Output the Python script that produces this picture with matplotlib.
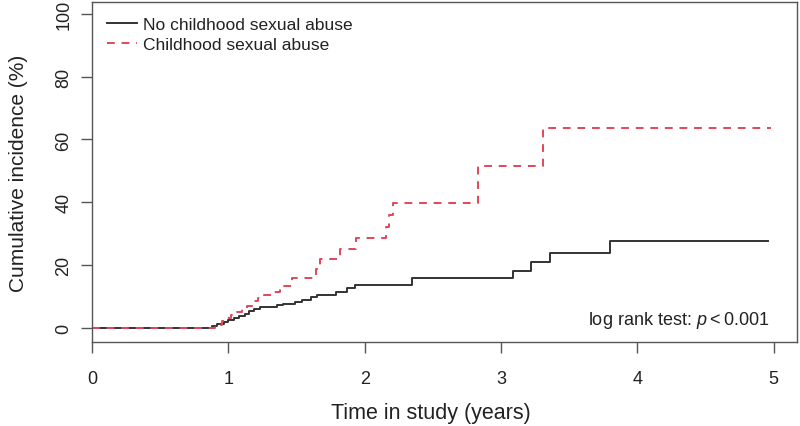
import matplotlib
matplotlib.use("Agg")
import matplotlib.pyplot as plt

plt.rcParams['font.family'] = ['Liberation Sans', 'DejaVu Sans']
plt.rcParams['mathtext.fontset'] = 'custom'
plt.rcParams['mathtext.rm'] = 'Liberation Sans'
plt.rcParams['mathtext.it'] = 'Liberation Sans:italic'

# Step data (time in years, cumulative incidence %)
t_no = [0.0, 0.84, 0.88, 0.92, 0.97, 1.00, 1.04, 1.08, 1.12, 1.15, 1.19, 1.23,
        1.36, 1.40, 1.49, 1.54, 1.61, 1.65, 1.79, 1.87, 1.93, 2.35, 3.09, 3.22,
        3.36, 3.80, 4.96]
y_no = [0.0, 0.0, 0.6, 1.2, 1.9, 2.5, 3.2, 3.8, 4.5, 5.2, 6.0, 6.7,
        7.2, 7.6, 8.3, 9.0, 9.8, 10.5, 11.4, 12.6, 13.5, 15.9, 18.1, 21.0,
        23.9, 27.7, 27.7]

t_csa = [0.0, 0.85, 0.90, 0.95, 0.98, 1.02, 1.06, 1.10, 1.14, 1.18, 1.22, 1.26,
         1.32, 1.38, 1.47, 1.64, 1.67, 1.82, 1.94, 2.16, 2.18, 2.21, 2.83, 3.31, 4.98]
y_csa = [0.0, 0.0, 1.0, 2.0, 3.0, 4.0, 5.0, 6.0, 7.0, 8.6, 9.5, 10.5,
         11.5, 13.3, 15.9, 18.8, 22.0, 25.0, 28.7, 32.0, 36.0, 39.8, 51.6, 63.7, 63.7]

labels = ["No childhood sexual abuse", "Childhood sexual abuse"]
x_ticks = [0, 1, 2, 3, 4, 5]
y_ticks = [0, 20, 40, 60, 80, 100]

fig = plt.figure(figsize=(8, 4.27), dpi=100)
ax = fig.add_axes([0.115, 0.197, 0.881, 0.796])

ax.step(t_no, y_no, where='post', color='#333333', lw=1.4, label=labels[0])
ax.step(t_csa, y_csa, where='post', color='#e0485a', lw=1.4, ls=(0, (4, 3.5)),
        label=labels[1])

ax.set_xlim(0, 5.17)
ax.set_ylim(-4.5, 103.8)
ax.set_xticks(x_ticks)
ax.set_yticks(y_ticks)
ax.set_yticklabels([str(v) for v in y_ticks], rotation=90, va='center')

for s in ax.spines.values():
    s.set_color('#555555')
    s.set_linewidth(1.0)
ax.tick_params(direction='out', length=8, width=1.0, color='#555555',
               labelsize=13, labelcolor='#222222')
ax.tick_params(axis='x', pad=12)
ax.tick_params(axis='y', pad=6)

ax.set_xlabel("Time in study (years)", fontsize=15.5, color='#222222', labelpad=11)
ax.xaxis.label.set_x(0.481)
ax.set_ylabel("Cumulative incidence (%)", fontsize=15, color='#222222', labelpad=20)

leg = ax.legend(loc='upper left', frameon=False, fontsize=12.5,
                handlelength=1.75, handletextpad=0.35, borderaxespad=0,
                borderpad=0, labelspacing=0.25,
                bbox_to_anchor=(0.021, 0.956))
for txt in leg.get_texts():
    txt.set_color('#222222')

ax.text(0.962, 0.066, "log rank test: $p$\u2009<\u20090.001", transform=ax.transAxes,
        ha='right', va='center', fontsize=13, color='#222222')

fig.savefig("out.png", dpi=100)
